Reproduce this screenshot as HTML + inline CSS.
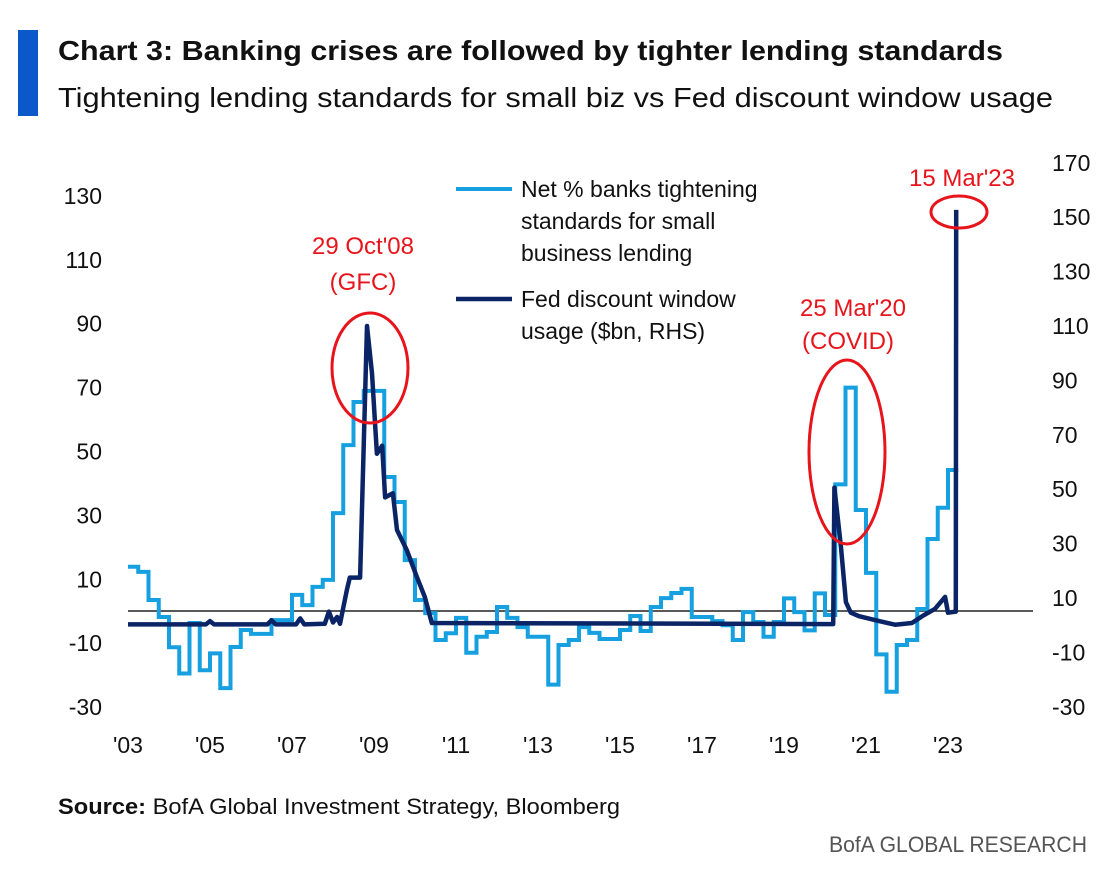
<!DOCTYPE html>
<html><head><meta charset="utf-8"><style>
html,body{margin:0;padding:0;background:#fff;}
svg{display:block;font-family:"Liberation Sans",sans-serif;}
</style></head><body>
<svg id="chart" width="1118" height="880" viewBox="0 0 1118 880">
<rect x="18" y="30" width="20" height="86" fill="#0a58ca"/>
<text x="58" y="60" font-size="28" font-weight="bold" fill="#111" textLength="945" lengthAdjust="spacingAndGlyphs">Chart 3: Banking crises are followed by tighter lending standards</text>
<text x="58" y="107" font-size="28" fill="#111" textLength="995" lengthAdjust="spacingAndGlyphs">Tightening lending standards for small biz vs Fed discount window usage</text>
<g id="leftAxis"></g>
<g id="rightAxis"></g>
<g id="xAxis"></g>
<line x1="128" y1="611" x2="1033" y2="611" stroke="#222" stroke-width="1.6"/>
<path id="lightLine" fill="none" stroke="#16a0e0" stroke-width="4" stroke-linejoin="miter"/>
<path id="darkLine" fill="none" stroke="#0b2466" stroke-width="4.5" stroke-linejoin="round"/>
<g>
<line x1="456" y1="189" x2="512" y2="189" stroke="#16a0e0" stroke-width="4"/>
<text x="521" y="197" font-size="23" fill="#111"><tspan x="521">Net % banks tightening</tspan><tspan x="521" dy="32">standards for small</tspan><tspan x="521" dy="32">business lending</tspan></text>
<line x1="456" y1="299" x2="512" y2="299" stroke="#0b2466" stroke-width="4.5"/>
<text x="521" y="307" font-size="23" fill="#111"><tspan x="521">Fed discount window</tspan><tspan x="521" dy="32">usage ($bn, RHS)</tspan></text>
</g>
<g fill="#e8141b" font-size="24" text-anchor="middle">
<text x="363" y="254">29 Oct'08</text>
<text x="363" y="290">(GFC)</text>
<text x="853" y="316">25 Mar'20</text>
<text x="848" y="349">(COVID)</text>
<text x="962" y="186">15 Mar'23</text>
</g>
<g fill="none" stroke="#e8141b" stroke-width="3">
<ellipse cx="370" cy="368" rx="38" ry="55"/>
<ellipse cx="847" cy="452" rx="38" ry="92"/>
<ellipse cx="959" cy="212" rx="28" ry="16"/>
</g>
<text x="58" y="814" font-size="22" fill="#111" textLength="562" lengthAdjust="spacingAndGlyphs"><tspan font-weight="bold">Source:</tspan>  BofA Global Investment Strategy, Bloomberg</text>
<text x="1087" y="852" font-size="22" fill="#555" text-anchor="end" textLength="258" lengthAdjust="spacingAndGlyphs">BofA GLOBAL RESEARCH</text>
</svg>
<script>
const leftTicks = [130,110,90,70,50,30,10,-10,-30];
const rightTicks = [170,150,130,110,90,70,50,30,10,-10,-30];
const xTickLabels = ["'03","'05","'07","'09","'11","'13","'15","'17","'19","'21","'23"];
const xTickYears = [2003,2005,2007,2009,2011,2013,2015,2017,2019,2021,2023];
const lendingStart = 2003.0;
const lendingValues = [13.9,12.3,3.5,-1.8,-11.3,-19.5,-3.7,-18.5,-13.2,-24.1,-11.2,-5.9,-7.1,-7.1,-2.8,-2.8,5.1,1.9,7.6,9.8,
30.7,52,65.5,69,69,42,34.2,16,3.5,-0.6,-9,-6.9,-2.1,-13,-8,-6.5,1.3,-2.1,-5,-8,
-8,-23,-10.6,-9,-5,-6.8,-8.7,-8.7,-5.9,-1.5,-6.2,1.3,4.1,5.7,7,-1.8,-1.8,-3.1,-4.4,-9,
-0.3,-3.4,-8,-3.4,4,-0.3,-6,5.6,-1.2,39.7,70,31.7,12,-13.5,-25.2,-10.6,-9,0.7,22.6,32.4,44.2];
const discountDates = [2003.0,2004.9,2005.0,2005.1,2006.4,2006.5,2006.6,2007.1,2007.2,2007.3,2007.8,2007.9,2008.0,2008.1,2008.17,
2008.34,2008.41,2008.66,2008.83,2008.95,2009.07,2009.2,2009.27,2009.46,2009.56,2009.8,2010.05,2010.24,2010.41,
2020.2,2020.23,2020.39,2020.51,2020.63,2020.83,2021.32,2021.71,2022.12,2022.37,2022.68,2022.93,2023.0,2023.19,2023.2];
const discountValues = [0.3,0.3,1.5,0.3,0.3,1.8,0.3,0.3,2.5,0.3,0.5,5,1,3,0.5,
13,17.5,17.5,110,92.6,63,66,47,48.5,35,27.6,17.6,10.4,0.8,
0.4,50.6,28.6,8.5,4.6,3.3,1.5,0.2,0.8,3.3,6,10.4,4.6,5,152.7];

const X = t => 128 + 41*(t-2003);
const YL = v => 611.2 - v*3.194;
const YR = v => 625.2 - v*2.72;
const NS = "http://www.w3.org/2000/svg";
function txt(parent, x, y, s, anchor){
  const t = document.createElementNS(NS,"text");
  t.setAttribute("x",x); t.setAttribute("y",y); t.setAttribute("font-size","23");
  t.setAttribute("fill","#111"); t.setAttribute("text-anchor",anchor); t.textContent = s;
  parent.appendChild(t); return t;
}
const la = document.getElementById("leftAxis");
leftTicks.forEach(v=>{ const t = txt(la, 102, YL(v)+8, String(v), "end");

 });
const ra = document.getElementById("rightAxis");
rightTicks.forEach(v=>{ const t = txt(ra, 1052, YR(v)+8, String(v), "start");

 });
const xa = document.getElementById("xAxis");
xTickLabels.forEach((s,i)=>{ const t = txt(xa, X(xTickYears[i]), 753, s, "middle");

 });
let d = "";
lendingValues.forEach((v,i)=>{
  const x0 = X(lendingStart + i*0.25), x1 = X(lendingStart + (i+1)*0.25), y = YL(v);
  d += (i===0 ? "M"+x0+","+y : " V"+y) + " H"+x1;
});
document.getElementById("lightLine").setAttribute("d", d);
let d2 = "";
discountDates.forEach((t,i)=>{ d2 += (i?" L":"M") + X(t).toFixed(1) + "," + YR(discountValues[i]).toFixed(1); });
document.getElementById("darkLine").setAttribute("d", d2);
</script>
</body></html>
